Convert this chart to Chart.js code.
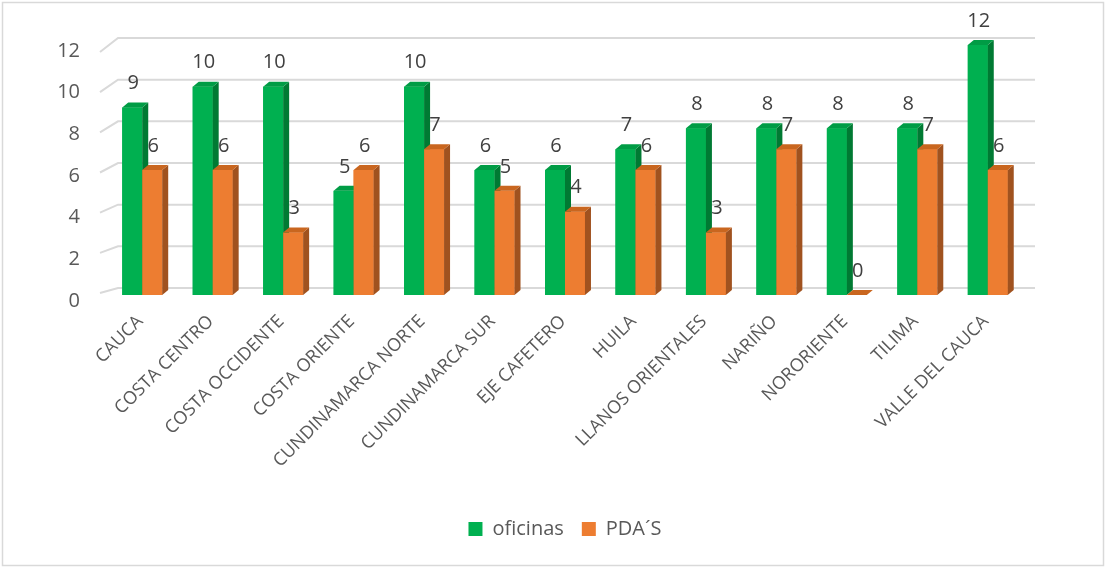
<!DOCTYPE html>
<html>
<head>
<meta charset="utf-8">
<script src="https://cdn.jsdelivr.net/npm/chart.js@4.4.1/dist/chart.umd.min.js"></script>
<style>
  html, body { margin: 0; padding: 0; background: #ffffff; }
  #wrap { width: 1107px; height: 567px; position: relative; }
</style>
</head>
<body>
<div id="wrap"><canvas id="c"></canvas></div>
<script>
const categories = ["CAUCA", "COSTA CENTRO", "COSTA OCCIDENTE", "COSTA ORIENTE", "CUNDINAMARCA NORTE", "CUNDINAMARCA SUR", "EJE CAFETERO", "HUILA", "LLANOS ORIENTALES", "NARIÑO", "NORORIENTE", "TILIMA", "VALLE DEL CAUCA"];
const oficinas = [9, 10, 10, 5, 10, 6, 6, 7, 8, 8, 8, 8, 12];
const pdas = [6, 6, 3, 6, 7, 5, 4, 6, 3, 7, 0, 7, 6];
const yTicks = [0, 2, 4, 6, 8, 10, 12];

const FONT = "'Open Sans', 'Noto Sans', sans-serif";
const faces = [
  { front: "#00B050", top: "#009C45", side: "#007A33" },
  { front: "#ED7D31", top: "#C9661F", side: "#A0521F" }
];
const DX = 6, DY = 5;

const bar3d = {
  id: "bar3d",
  beforeDraw(chart) {
    const ctx = chart.ctx;
    ctx.save();
    ctx.strokeStyle = "#d9d9d9";
    ctx.lineWidth = 1.5;
    ctx.strokeRect(2.5, 2.5, 1101, 563);
    ctx.restore();
  },
  beforeDatasetsDraw(chart) {
    const ctx = chart.ctx, y = chart.scales.y;
    const base = y.getPixelForValue(0);
    ctx.save();
    ctx.strokeStyle = "#d9d9d9";
    ctx.lineWidth = 2;
    yTicks.forEach(v => {
      const yf = y.getPixelForValue(v);
      const yb = yf - 7;
      const yl = 293 + (yf - base) * 241 / 250;
      ctx.beginPath();
      ctx.moveTo(100, yl);
      ctx.lineTo(118, yb);
      ctx.lineTo(1035, yb);
      ctx.stroke();
    });
    ctx.restore();
  },
  afterDatasetsDraw(chart) {
    const ctx = chart.ctx;
    const metas = chart.data.datasets.map((d, i) => chart.getDatasetMeta(i));
    ctx.save();
    for (let c = 0; c < categories.length; c++) {
      metas.forEach((meta, di) => {
        const el = meta.data[c];
        const f = faces[di];
        const w = el.width;
        const x0 = el.x - w / 2, x1 = el.x + w / 2;
        const top = el.y, base = el.base;
        ctx.fillStyle = f.front;
        ctx.fillRect(x0, top, w, base - top);
        ctx.fillStyle = f.side;
        ctx.beginPath();
        ctx.moveTo(x1, top); ctx.lineTo(x1 + DX, top - DY);
        ctx.lineTo(x1 + DX, base - DY); ctx.lineTo(x1, base);
        ctx.closePath(); ctx.fill();
        ctx.fillStyle = f.top;
        ctx.beginPath();
        ctx.moveTo(x0, top); ctx.lineTo(x0 + DX, top - DY);
        ctx.lineTo(x1 + DX, top - DY); ctx.lineTo(x1, top);
        ctx.closePath(); ctx.fill();
      });
    }
    ctx.fillStyle = "#404040";
    ctx.font = "20px " + FONT;
    ctx.textAlign = "center";
    ctx.textBaseline = "middle";
    metas.forEach((meta, di) => {
      meta.data.forEach((el, c) => {
        const v = chart.data.datasets[di].data[c];
        ctx.fillText(String(v), el.x + 1, el.y - 24);
      });
    });
    ctx.restore();
  }
};

new Chart(document.getElementById("c"), {
  type: "bar",
  data: {
    labels: categories,
    datasets: [
      { label: "oficinas", data: oficinas, backgroundColor: faces[0].front },
      { label: "PDA´S", data: pdas, backgroundColor: faces[1].front }
    ]
  },
  options: {
    responsive: true,
    maintainAspectRatio: false,
    animation: false,
    layout: { padding: { left: 0, right: 84, top: 45, bottom: 18 } },
    datasets: { bar: { categoryPercentage: 0.567, barPercentage: 1.0 } },
    plugins: {
      legend: {
        position: "bottom",
        fullSize: false,
        labels: { font: { size: 20, family: FONT }, color: "#595959", boxWidth: 14, boxHeight: 14, padding: 18 }
      },
      tooltip: { enabled: false }
    },
    scales: {
      x: {
        type: "category", offset: true,
        afterFit: (s) => { s.height = 206; },
        grid: { display: false, drawTicks: false }, border: { display: false },
        ticks: {
          autoSkip: false, minRotation: 45, maxRotation: 45, padding: 16, labelOffset: -2,
          color: "#595959", font: { size: 18, family: FONT }
        }
      },
      y: {
        min: 0, max: 12,
        afterBuildTicks: (s) => { s.ticks = yTicks.map(v => ({ value: v })); },
        afterFit: (s) => { s.width = 107; },
        grid: { display: false, drawTicks: false }, border: { display: false },
        ticks: { padding: 27, labelOffset: 6, color: "#595959", font: { size: 20, family: FONT } }
      }
    }
  },
  plugins: [bar3d]
});
</script>
</body>
</html>
